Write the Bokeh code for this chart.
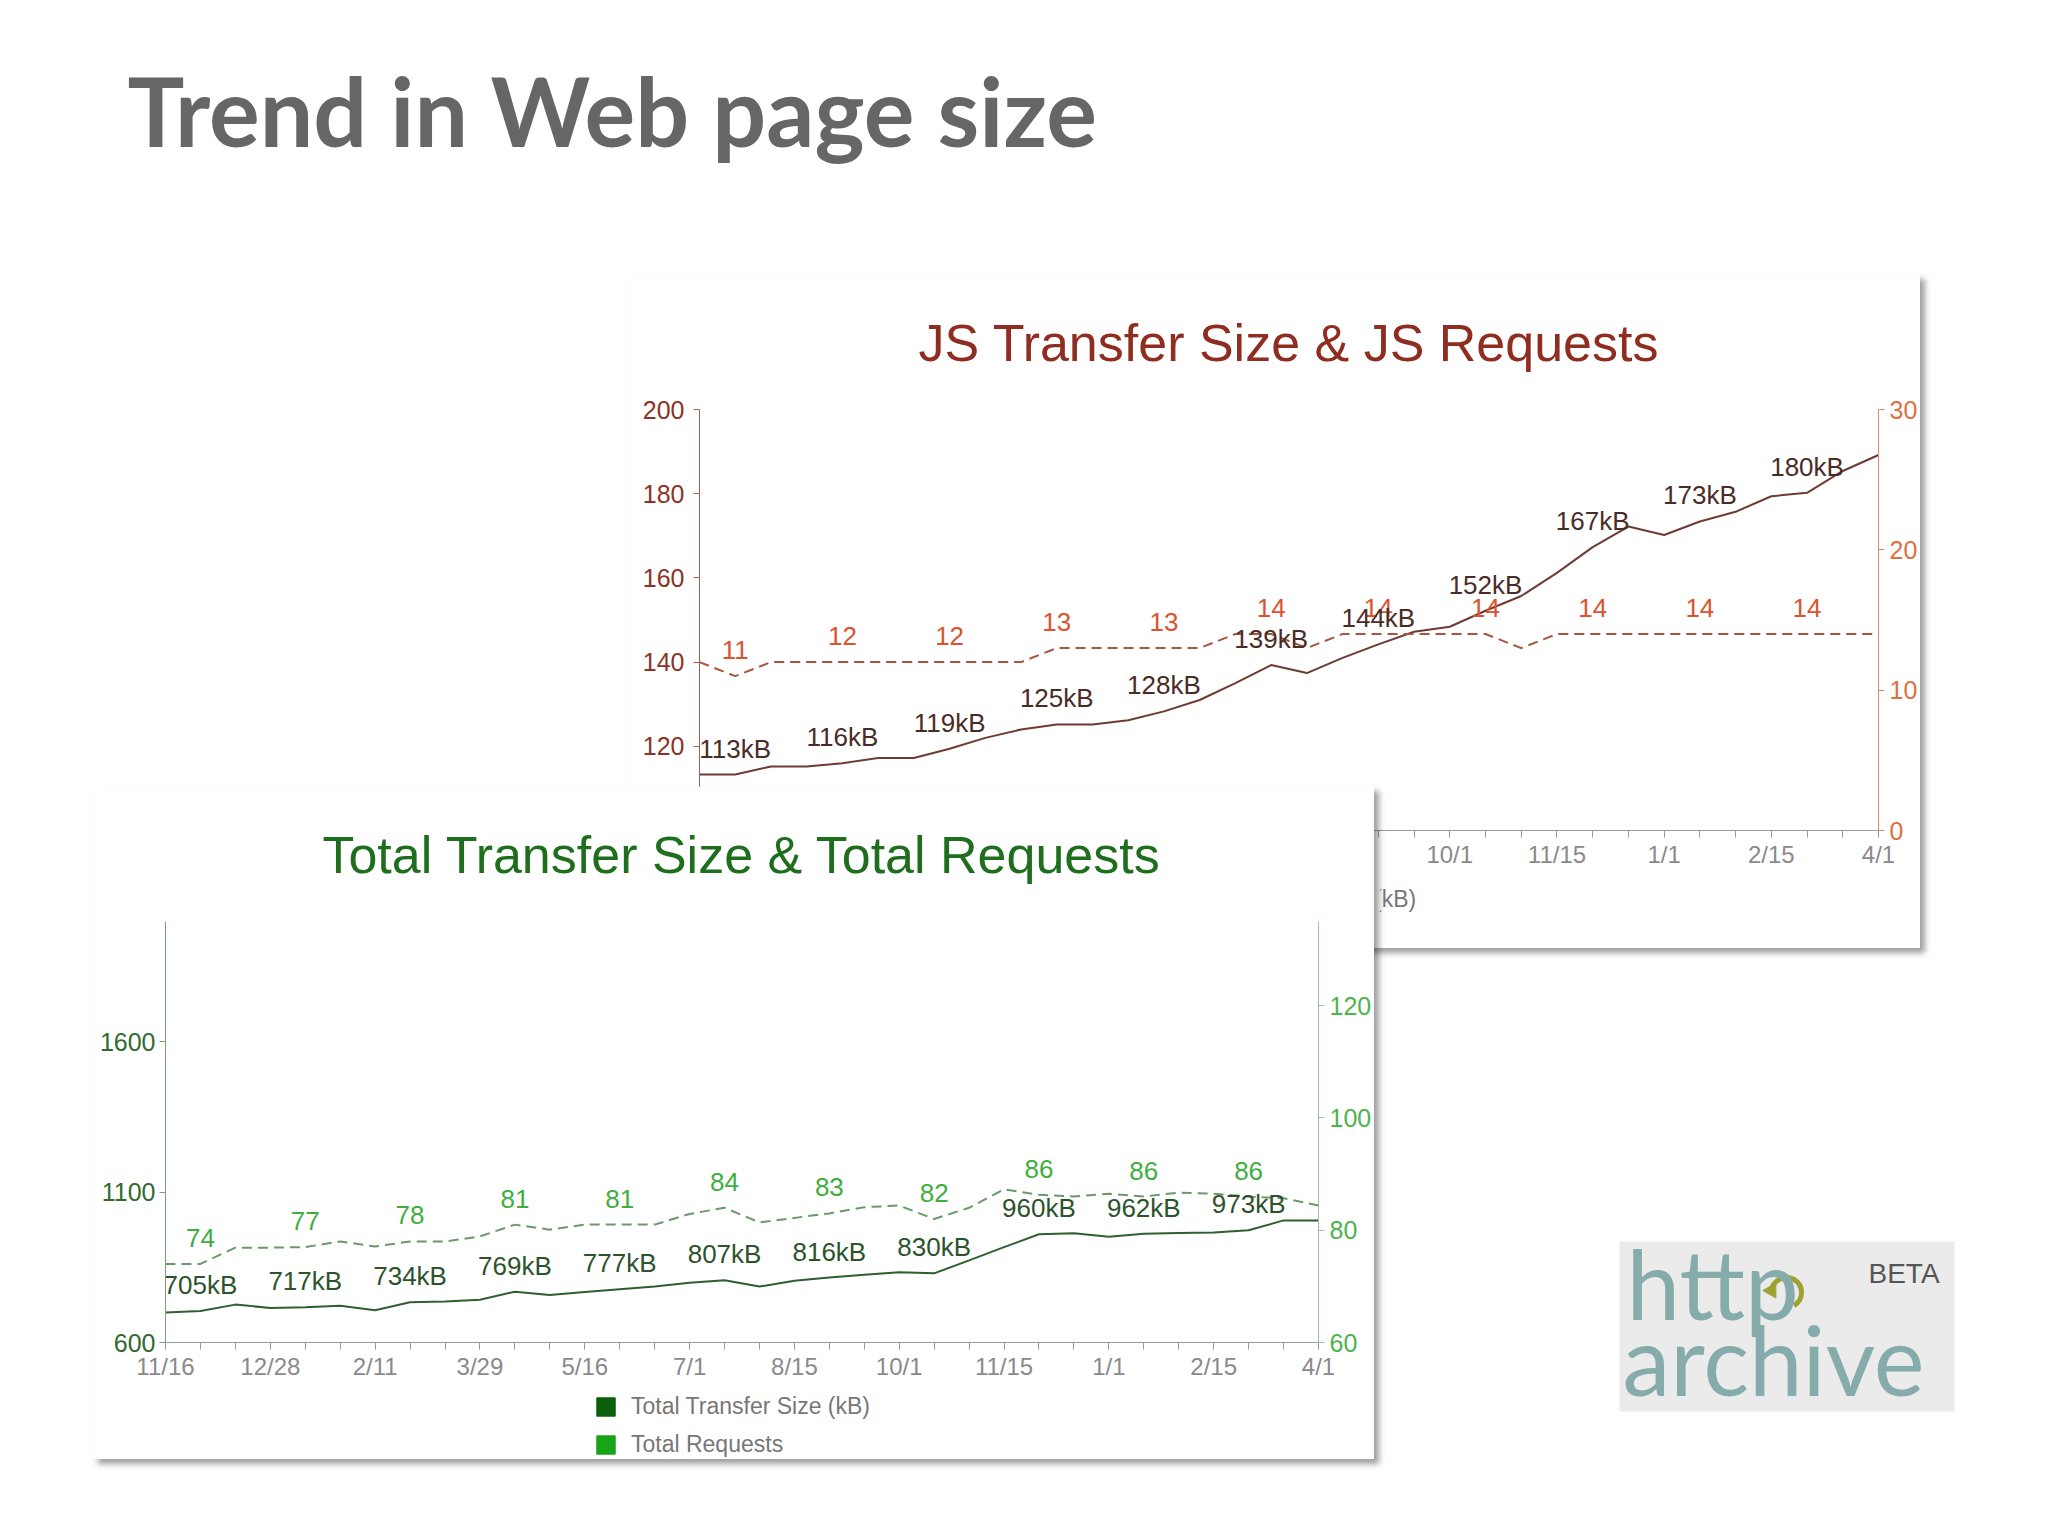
import math
from bokeh.plotting import figure
from bokeh.models import (Range1d, LinearAxis, FixedTicker, ColumnDataSource, Legend,
                          LegendItem, Label, BoxAnnotation, GridBox)
from bokeh.core.properties import value
from bokeh.embed import file_html
from bokeh.resources import INLINE

# ---------------- data ----------------
crawl_idx = list(range(34))
tick_idx = [0, 3, 6, 9, 12, 15, 18, 21, 24, 27, 30, 33]
tick_labels = ["11/16", "12/28", "2/11", "3/29", "5/16", "7/1", "8/15", "10/1",
               "11/15", "1/1", "2/15", "4/1"]
label_idx = [1, 4, 7, 10, 13, 16, 19, 22, 25, 28, 31]

js_size = [113.3, 113.3, 115.2, 115.2, 116.0, 117.2, 117.2, 119.4, 122.0, 124.0,
           125.2, 125.2, 126.2, 128.3, 131.0, 135.0, 139.3, 137.4, 141.0, 144.2,
           147.2, 148.4, 152.2, 155.7, 161.2, 167.3, 172.2, 170.2, 173.4, 175.7,
           179.4, 180.2, 185.4, 189.2]
js_req = [12, 11, 12, 12, 12, 12, 12, 12, 12, 12,
          13, 13, 13, 13, 13, 14, 14, 13, 14, 14,
          14, 14, 14, 13, 14, 14, 14, 14, 14, 14,
          14, 14, 14, 14]

tot_size = [700, 705, 726, 715, 717, 722, 707, 734, 736, 742,
            769, 758, 768, 777, 786, 799, 807, 786, 805, 816,
            825, 834, 830, 873, 917, 960, 963, 952, 962, 964,
            966, 973, 1006, 1006]
tot_req = [74.0, 74.0, 76.9, 76.9, 77.0, 78.0, 77.1, 78.0, 78.0, 78.9,
           81.0, 80.1, 81.0, 81.0, 81.0, 82.9, 84.0, 81.4, 82.2, 83.0,
           84.1, 84.4, 82.0, 84.0, 87.3, 86.3, 86.0, 86.5, 86.0, 86.7,
           86.5, 86.0, 85.7, 84.4]

js_left_ticks = [100, 120, 140, 160, 180, 200]
js_right_ticks = [0, 10, 20, 30]
tot_left_ticks = [600, 1100, 1600]
tot_right_ticks = [60, 80, 100, 120]

js_legend_labels = ["JS Transfer Size (kB)", "JS Requests"]
tot_legend_labels = ["Total Transfer Size (kB)", "Total Requests"]

SANS = "Liberation Sans"
TITLE_STANDOFF = 75
TOP_PANEL = TITLE_STANDOFF + 61   # height bokeh gives the title panel


def build_chart(title, size, req, y_rng, r_rng, y_ticks, r_ticks, frame, borders, col,
                left_standoff):
    fw, fh = frame
    bl, br, bb = borders
    p = figure(frame_width=fw, frame_height=fh, min_border_left=bl, min_border_right=br,
               min_border_top=10, min_border_bottom=bb,
               x_range=Range1d(0, 33), y_range=Range1d(*y_rng),
               output_backend="svg", toolbar_location=None, title=title)
    p.extra_y_ranges = {"req": Range1d(*r_rng)}
    p.xgrid.visible = False
    p.ygrid.visible = False
    p.outline_line_color = None
    p.background_fill_color = "white"
    p.border_fill_color = "white"

    p.title.align = "center"
    p.title.text_font = SANS
    p.title.text_font_size = "52px"
    p.title.text_font_style = "normal"
    p.title.text_color = col["title"]
    p.title.standoff = TITLE_STANDOFF

    xa = p.xaxis[0]
    xa.ticker = FixedTicker(ticks=tick_idx, minor_ticks=crawl_idx)
    xa.major_label_overrides = {i: lab for i, lab in zip(tick_idx, tick_labels)}
    xa.axis_line_color = "#9a9a9a"
    xa.major_tick_line_color = "#9a9a9a"
    xa.minor_tick_line_color = "#9a9a9a"
    xa.major_tick_out = 7
    xa.major_tick_in = 0
    xa.minor_tick_out = 7
    xa.minor_tick_in = 0
    xa.major_label_standoff = 3
    xa.major_label_text_font = SANS
    xa.major_label_text_font_size = "24px"
    xa.major_label_text_color = "#8a8a8a"

    ya = p.yaxis[0]
    ya.ticker = FixedTicker(ticks=y_ticks)
    ya.axis_line_color = col["laxis"]
    ya.major_tick_line_color = col["laxis"]
    ya.major_tick_out = 6
    ya.major_tick_in = 0
    ya.minor_tick_out = 0
    ya.minor_tick_in = 0
    ya.major_label_standoff = left_standoff
    ya.major_label_text_font = SANS
    ya.major_label_text_font_size = "25px"
    ya.major_label_text_color = col["llabel"]

    ra = LinearAxis(y_range_name="req", ticker=FixedTicker(ticks=r_ticks))
    ra.axis_line_color = col["raxis"]
    ra.major_tick_line_color = col["raxis"]
    ra.major_tick_out = 6
    ra.major_tick_in = 0
    ra.minor_tick_out = 0
    ra.minor_tick_in = 0
    ra.major_label_standoff = 5
    ra.major_label_text_font = SANS
    ra.major_label_text_font_size = "25px"
    ra.major_label_text_color = col["rlabel"]
    p.add_layout(ra, "right")

    p.line(crawl_idx, size, line_color=col["sline"], line_width=2)
    p.line(crawl_idx, req, line_color=col["rline"], line_width=2, line_dash="10 6",
           y_range_name="req")

    s_src = ColumnDataSource(dict(x=label_idx, y=[size[i] for i in label_idx],
                                  t=["%dkB" % round(size[i]) for i in label_idx]))
    r_src = ColumnDataSource(dict(x=label_idx, y=[req[i] for i in label_idx],
                                  t=["%d" % round(req[i]) for i in label_idx]))
    p.text(x="x", y="y", text="t", source=r_src, y_range_name="req",
           text_align="center", text_baseline="middle", y_offset=-26,
           text_font=value(SANS), text_font_size="26px", text_color=col["rlabel_d"])
    p.text(x="x", y="y", text="t", source=s_src,
           text_align="center", text_baseline="middle", y_offset=-26,
           text_font=value(SANS), text_font_size="26px", text_color=col["slabel_d"])
    return p


def legend_fig(labels, colors, width, height, loc, top, left):
    f = figure(width=width, height=height, x_range=Range1d(0, 1), y_range=Range1d(0, 1),
               x_axis_type=None, y_axis_type=None, min_border=0,
               min_border_left=0, min_border_right=0, min_border_top=0, min_border_bottom=0,
               output_backend="svg", toolbar_location=None)
    f.xgrid.visible = False
    f.ygrid.visible = False
    f.outline_line_color = None
    f.background_fill_color = None
    f.border_fill_color = None
    items = []
    for lab, c in zip(labels, colors):
        # one swatch shape kept outside the visible range; only its legend square shows
        q = f.quad(source=ColumnDataSource(dict(left=[5], right=[6], top=[6], bottom=[5])),
                   left="left", right="right", top="top", bottom="bottom",
                   fill_color=c, line_color=c)
        items.append(LegendItem(label=lab, renderers=[q]))
    leg = Legend(items=items, location=loc, orientation="vertical",
                 glyph_width=23, glyph_height=23, label_height=23, spacing=11,
                 padding=0, margin=0, label_standoff=14,
                 label_text_font=SANS, label_text_font_size="23px",
                 label_text_color="#777777",
                 border_line_color=None, background_fill_alpha=0)
    f.add_layout(leg)
    f.margin = (top, 0, 0, left)
    return f


js_cols = dict(title="#8f2d20", sline="#6e3b32", rline="#a9553f",
               slabel_d="#4a2c27", rlabel_d="#d9542f",
               laxis="#a86050", llabel="#8c3326", raxis="#d98c74", rlabel="#e0703f")
tot_cols = dict(title="#1e6e1e", sline="#2f5e2f", rline="#6a9a6a",
                slabel_d="#2d532d", rlabel_d="#3fae3f",
                laxis="#7aa07a", llabel="#2f6b2f", raxis="#a0bea0", rlabel="#4db34d")

js = build_chart("JS Transfer Size & JS Requests", js_size, js_req,
                 (100, 200), (0, 30), js_left_ticks, js_right_ticks,
                 (1179, 421), (72, 42, 118), js_cols, 9)
tot = build_chart("Total Transfer Size & Total Requests", tot_size, tot_req,
                  (600, 2000), (60, 135), tot_left_ticks, tot_right_ticks,
                  (1153, 421), (70, 58, 117), tot_cols, 4)

js.styles = {"box-shadow": "5px 5px 6px rgba(0,0,0,0.38)"}
tot.styles = {"box-shadow": "5px 5px 6px rgba(0,0,0,0.38)"}
js.margin = (410 - TOP_PANEL, 0, 0, 627)
tot.margin = (922 - TOP_PANEL, 0, 0, 93)

# legends (the JS one is mostly hidden behind the Total panel, only "(kB)" shows)
tot_leg = legend_fig(tot_legend_labels, ["#0b5e0b", "#19a319"], 340, 66, (4, 2), 1394, 590)
js_leg = legend_fig(js_legend_labels, ["#8c2a1a", "#e06a40"], 60, 66, (-218, 2), 887, 1380)

# ---------------- slide ----------------
slide = figure(width=2032, height=1520,
               x_range=Range1d(0, 2032), y_range=Range1d(1520, 0),
               x_axis_type=None, y_axis_type=None, min_border=0,
               min_border_left=0, min_border_right=0, min_border_top=0, min_border_bottom=0,
               output_backend="svg", toolbar_location=None)
slide.xgrid.visible = False
slide.ygrid.visible = False
slide.outline_line_color = None
slide.background_fill_color = "white"
slide.border_fill_color = "white"

slide.add_layout(Label(x=127, y=109, text="Trend in Web page size", text_font="Lato",
                       text_font_size="95px", text_font_style="bold", text_color="#666666",
                       text_align="left", text_baseline="alphabetic"))
slide.add_layout(BoxAnnotation(left=1619, right=1954, top=1241, bottom=1411, level="underlay",
                               fill_color="#ebebeb", fill_alpha=1, line_color=None))
slide.add_layout(Label(x=1626, y=1282, text="http", text_font="Lato", text_font_size="96px",
                       text_color="#86abab", text_align="left", text_baseline="alphabetic"))
slide.add_layout(Label(x=1622, y=1358, text="archive", text_font="Lato", text_font_size="96px",
                       text_color="#86abab", text_align="left", text_baseline="alphabetic"))
slide.add_layout(Label(x=1868, y=1273, text="BETA", text_font=SANS, text_font_size="28px",
                       text_color="#555555", text_align="left", text_baseline="alphabetic"))
slide.arc(x=[1786], y=[1292], radius=15, start_angle=-math.pi / 3, end_angle=math.pi,
          direction="anticlock", line_color="#9da233", line_width=5)
slide.scatter(x=[1771], y=[1290], marker="triangle", size=15, angle=math.pi / 2,
              fill_color="#9da233", line_color="#9da233")

charts = GridBox(children=[(js, 0, 0), (tot, 0, 0)])
layout = GridBox(children=[(slide, 0, 0), (charts, 0, 0), (js_leg, 0, 0), (tot_leg, 0, 0)])

open("out.html", "w").write(file_html(layout, INLINE))
